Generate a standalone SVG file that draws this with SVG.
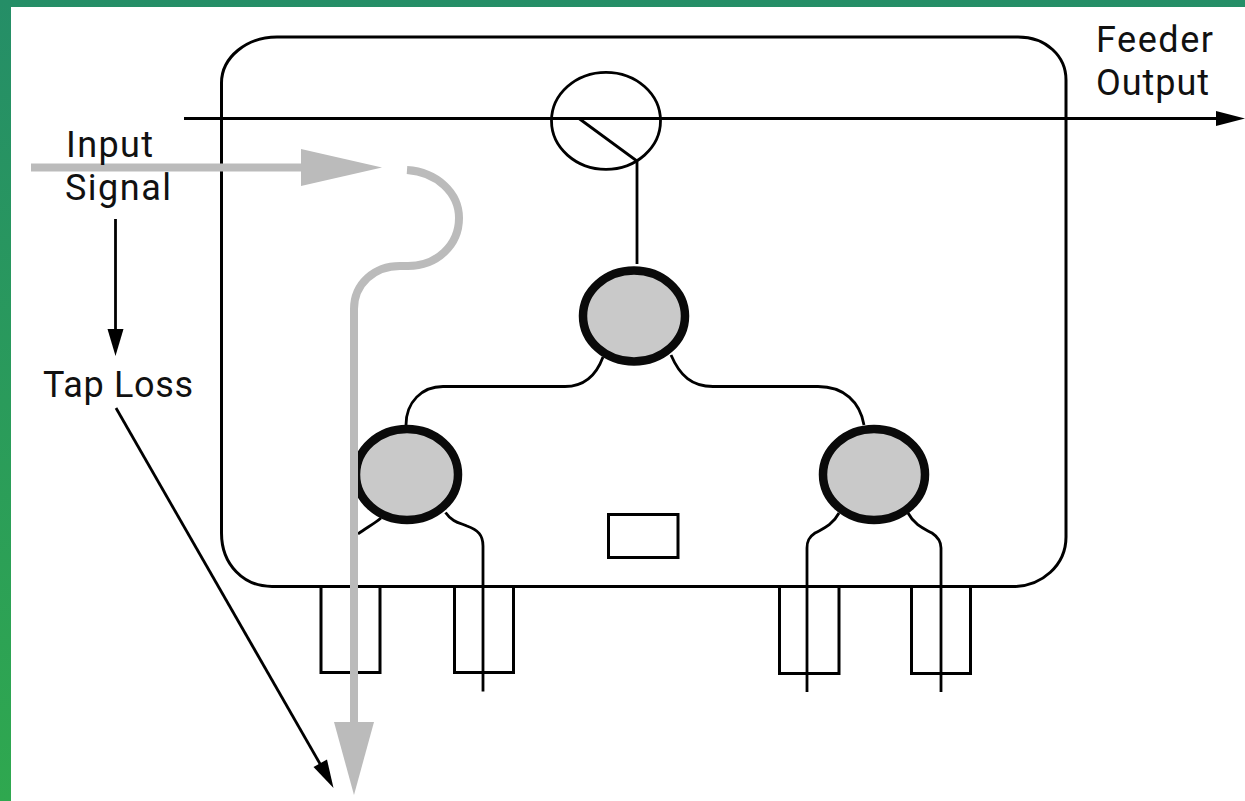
<svg xmlns="http://www.w3.org/2000/svg" width="1245" height="801" viewBox="0 0 1245 801">
<style>
.ln{fill:none;stroke:#000;stroke-width:2.800}
.bx{fill:none;stroke:#000;stroke-width:3}
.sig{fill:none;stroke:#bbb;stroke-width:8}
.hd{fill:#bbb;stroke:none}
.ah{fill:#000;stroke:none}
.nd{fill:#c9c9c9;stroke:#0a0a0a;stroke-width:8.500}
text{font-family:Roboto,"Liberation Sans",Arial,sans-serif;font-size:36px;fill:#111}
</style>
<defs>
<linearGradient id="bg" x1="0" y1="0" x2="0" y2="1">
<stop offset="0" stop-color="#258e67"/>
<stop offset="1" stop-color="#2fa84f"/>
</linearGradient>
</defs>
<rect width="1245" height="801" fill="url(#bg)"/>
<rect x="11" y="7" width="1234" height="794" fill="#fff"/>
<g id="enclosure">
<path class="bx" d="M277 37H1018C1046 37 1066 56 1066 80V537C1066 565 1042 586.500 1013 586.500H272C244 586.500 221.500 565 221.500 533V83C221.500 57 247 37 277 37Z"/>
</g>
<g id="port-1"><path class="bx" d="M321 586.500V672.500H380V586.500"/></g>
<g id="port-2"><path class="bx" d="M454.500 586.500V672.500H513.500V586.500"/></g>
<g id="port-3"><path class="bx" d="M779.500 586.500V673.500H839V586.500"/></g>
<g id="port-4"><path class="bx" d="M911.500 586.500V673.500H970.500V586.500"/></g>
<g id="label-box"><rect class="bx" x="608.500" y="514.500" width="69.500" height="43"/></g>
<g id="coupler"><ellipse class="ln" cx="606" cy="120.800" rx="54.500" ry="48.500"/></g>
<g id="connectors">
<path class="ln" d="M184 118.500H1218"/>
<path class="ah" d="M1216 111L1245 118.500L1216 126Z"/>
<path class="ln" d="M579 118.500L637 161V264"/>
<path class="ln" d="M603 357C596 376 584 386.500 565 386.500H443C422 386.500 406 402 406 425"/>
<path class="ln" d="M671 355C680 376 692 386.500 713 386.500H818C844 386.500 860 402 864 425"/>
<path class="ln" d="M381 518C374 524 366 528 358 534"/>
<path class="ln" d="M445.500 512.500C452 522 460 523 467 526C478 530 483 535 483 546V691.500"/>
<path class="ln" d="M839 513C832 526 822 529 815 533C809 537 807 541 807 548V692"/>
<path class="ln" d="M908 513C915 526 925 529 932 533C938 537 941 541 941 548V692"/>
<path class="ln" d="M115.500 219V332"/>
<path class="ah" d="M107.500 329H123.500L115.500 356Z"/>
<path class="ln" d="M116 408L327 776"/>
<path class="ah" d="M313.500 767L327 759.500L333.500 788Z"/>
</g>
<g id="node-top"><ellipse class="nd" cx="634" cy="316" rx="51" ry="45.500"/></g>
<g id="node-left"><ellipse class="nd" cx="407" cy="474.500" rx="51" ry="45.500"/></g>
<g id="node-right"><ellipse class="nd" cx="874" cy="474.500" rx="51" ry="45.500"/></g>
<g id="signal">
<path class="sig" d="M31 167.500H305"/>
<path class="hd" d="M301 149L382 167.500L301 186Z"/>
<path class="sig" d="M407 170C437 172 459 193 459 218C459 245 437 266 408 266H400C374 266 354 284 354 309V725"/>
<path class="hd" d="M334 722H374L354 795Z"/>
</g>
<g id="labels">
<text x="1096" y="52" textLength="117" lengthAdjust="spacing">Feeder</text>
<text x="1096" y="95" textLength="113" lengthAdjust="spacing">Output</text>
<text x="66" y="157" textLength="87" lengthAdjust="spacing">Input</text>
<text x="65" y="200" textLength="106" lengthAdjust="spacing">Signal</text>
<text x="43" y="397" textLength="150" lengthAdjust="spacing">Tap Loss</text>
</g>
</svg>
